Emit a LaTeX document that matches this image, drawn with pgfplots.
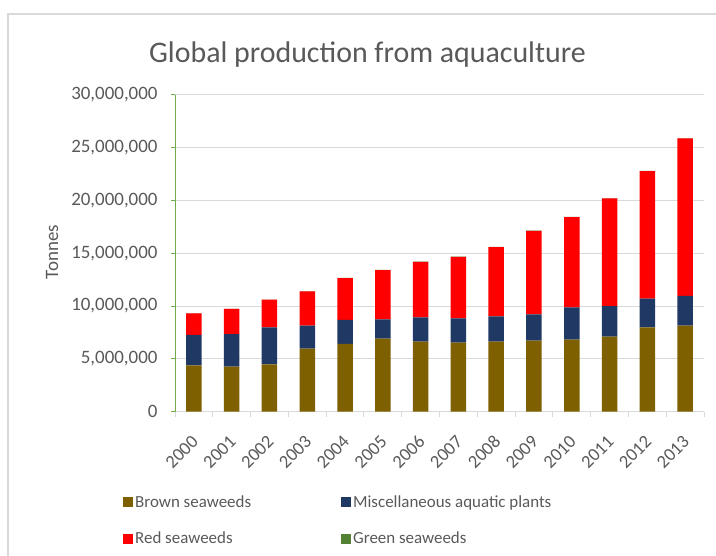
\documentclass[border=0pt]{standalone}
\usepackage{pgfplots}
\usepackage{pgfplotstable}
\pgfplotsset{compat=1.18}
\usepackage{fontspec}
\setmainfont{Carlito}
\definecolor{brownsw}{HTML}{7F6000}
\definecolor{miscsw}{HTML}{1F3864}
\definecolor{redsw}{HTML}{FF0000}
\definecolor{greensw}{HTML}{548235}
\definecolor{txt}{HTML}{595959}
\definecolor{gridc}{HTML}{D9D9D9}
\definecolor{yaxisc}{HTML}{70AD47}
\pgfplotstableread{
x brown misc red green
0 4390000 2870000 2050000 12000
1 4260000 3090000 2370000 13000
2 4480000 3500000 2620000 14000
3 5960000 2180000 3250000 15000
4 6430000 2250000 3970000 15000
5 6910000 1830000 4660000 16000
6 6620000 2310000 5260000 16000
7 6530000 2310000 5820000 17000
8 6620000 2400000 6560000 17000
9 6720000 2490000 7910000 18000
10 6810000 3070000 8540000 18000
11 7100000 2900000 10190000 19000
12 7980000 2710000 12080000 19000
13 8140000 2810000 14910000 20000
}\datatable
\begin{document}
\begin{tikzpicture}
\path[use as bounding box] (0bp,0bp) rectangle (716bp,556bp);
\draw[gridc, line width=1.5bp] (8bp,-5bp) -- (8bp,542bp) -- (725bp,542bp);
\node[anchor=base, font=\fontsize{30}{36}\selectfont, text=txt] at (367.5bp,493.7bp) {Global production from aquaculture};
\begin{axis}[
  at={(175bp,144.3bp)}, anchor=south west,
  scale only axis, width=529bp, height=317bp,
  ybar stacked, bar width=15.5bp,
  xmin=-0.5, xmax=13.5, ymin=0, ymax=30000000,
  axis x line*=bottom, axis y line*=left,
  x axis line style={-, gridc, line width=1bp},
  y axis line style={-, yaxisc, line width=1bp},
  xtick={0,...,13},
  xticklabels={2000,2001,2002,2003,2004,2005,2006,2007,2008,2009,2010,2011,2012,2013},
  major x tick style={draw=none},
  minor xtick={-0.5,0.5,...,13.5},
  minor x tick style={gridc, line width=1bp},
  minor tick length=5bp,
  tick align=outside,
  ytick={0,5000000,10000000,15000000,20000000,25000000,30000000},
  major tick length=4bp,
  y tick style={yaxisc, line width=1bp},
  ymajorgrids, major grid style={gridc, line width=1bp},
  scaled y ticks=false,
  /pgf/number format/.cd, fixed, 1000 sep={,}, assume math mode=true,
  /pgfplots/.cd,
  yticklabel style={text=txt, font=\fontsize{19}{22}\selectfont, xshift=-10bp},
  xticklabel style={text=txt, font=\fontsize{18.5}{22}\selectfont, rotate=45, anchor=east, yshift=-17bp, xshift=-12bp},
  ylabel={Tonnes},
  ylabel style={at={(axis description cs:-0.2325,0.504)}, anchor=center, text=txt, font=\fontsize{19}{22}\selectfont},
  legend columns=2,
  legend cell align=left,
  legend style={at={(axis description cs:-0.0983,-0.258)}, anchor=north west, draw=none, fill=none, inner sep=0pt,
    font=\fontsize{17}{20}\selectfont, text=txt, row sep=19bp,
    nodes={inner sep=2bp},
    /tikz/column 2/.style={column sep=88bp}},
  legend image code/.code={\fill[#1] (0bp,-5bp) rectangle (10bp,5bp);},
]
\addplot[fill=brownsw, draw=none] table[x=x, y=brown] {\datatable};
\addlegendentry{Brown seaweeds}
\addplot[fill=miscsw, draw=none] table[x=x, y=misc] {\datatable};
\addlegendentry{Miscellaneous aquatic plants}
\addplot[fill=redsw, draw=none] table[x=x, y=red] {\datatable};
\addlegendentry{Red seaweeds}
\addplot[fill=greensw, draw=none] table[x=x, y=green] {\datatable};
\addlegendentry{Green seaweeds}
\end{axis}
\end{tikzpicture}
\end{document}
